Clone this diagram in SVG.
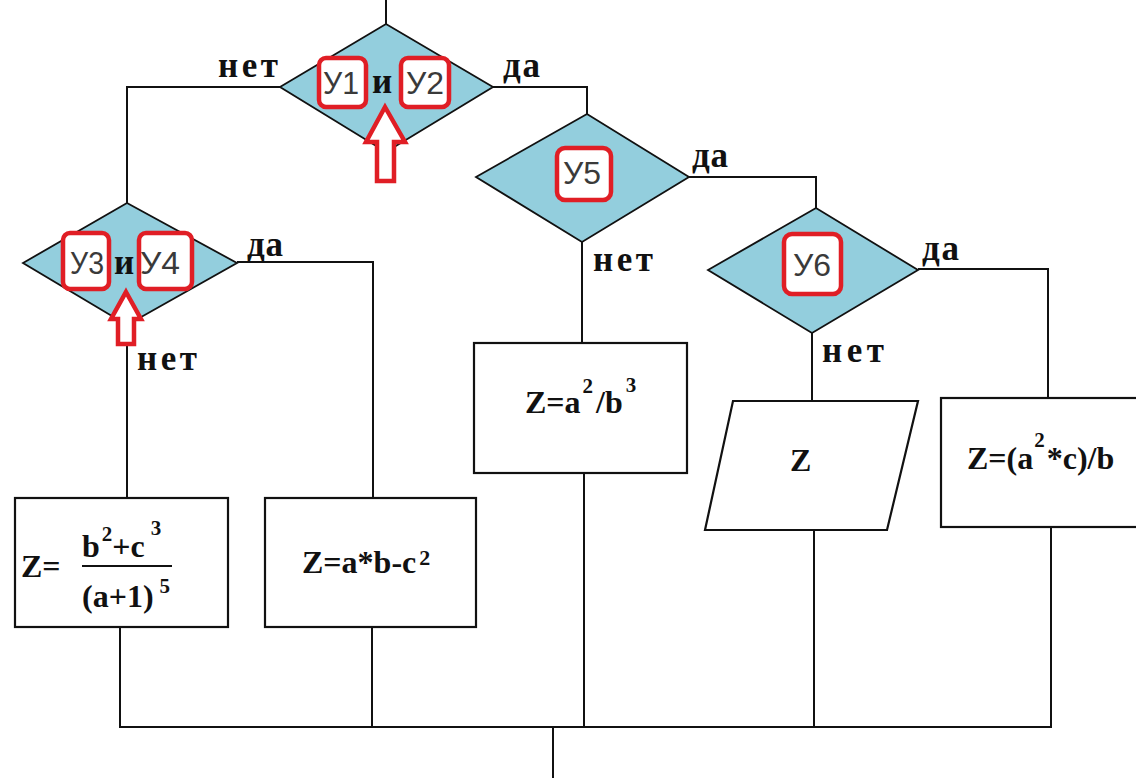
<svg xmlns="http://www.w3.org/2000/svg" width="1136" height="778" viewBox="0 0 1136 778">
<style>
.ln{fill:none;stroke:#111;stroke-width:2}
.dia{fill:#93CEDD;stroke:#111;stroke-width:1.8}
.box{fill:#fff;stroke:#111;stroke-width:2.2}
.rb{fill:#fff;stroke:#E01E25;stroke-width:4.5}
.arr{fill:#fff;stroke:#E01E25;stroke-width:4.5;stroke-linejoin:miter}
.y{font-family:"Liberation Sans",Arial,sans-serif;font-size:32px;fill:#3a3a3a}
.lb{font-family:"Liberation Serif","Times New Roman",serif;font-weight:700;font-size:35px;fill:#111}
.fx{font-family:"Liberation Serif","Times New Roman",serif;font-weight:700;font-size:32px;fill:#111}
</style>
<rect width="1136" height="778" fill="#fff"/>
<g id="connectors">
<path class="ln" d="M386 0V24"/>
<path class="ln" d="M280 87H127V203"/>
<path class="ln" d="M493 87H587V114"/>
<path class="ln" d="M237 262H373V498"/>
<path class="ln" d="M127 325V498"/>
<path class="ln" d="M689 177H816V208"/>
<path class="ln" d="M582 242V343"/>
<path class="ln" d="M918 269H1048V398"/>
<path class="ln" d="M812 333V401"/>
<path class="ln" d="M120 627V727"/>
<path class="ln" d="M372 627V727"/>
<path class="ln" d="M584 473V727"/>
<path class="ln" d="M814 530V727"/>
<path class="ln" d="M1051 527V727"/>
<path class="ln" d="M119 727H1052"/>
<path class="ln" d="M553 727V778"/>
<text class="lb" x="218" y="77" textLength="60" lengthAdjust="spacing">нет</text>
<text class="lb" x="503" y="77" textLength="37" lengthAdjust="spacing">да</text>
<text class="lb" x="247" y="256" textLength="36" lengthAdjust="spacing">да</text>
<text class="lb" x="137" y="370" textLength="60" lengthAdjust="spacing">нет</text>
<text class="lb" x="692" y="167" textLength="36" lengthAdjust="spacing">да</text>
<text class="lb" x="593" y="271" textLength="60" lengthAdjust="spacing">нет</text>
<text class="lb" x="922" y="260" textLength="37" lengthAdjust="spacing">да</text>
<text class="lb" x="822" y="362" textLength="62" lengthAdjust="spacing">нет</text>
</g>
<g id="d1">
<polygon class="dia" points="280,87 386,24 493,87 386,152"/>
<rect class="rb" x="319" y="58" width="47" height="49" rx="7"/>
<rect class="rb" x="401" y="58" width="48" height="49" rx="7"/>
<text class="y" x="323" y="94" textLength="36" lengthAdjust="spacingAndGlyphs">У1</text>
<text class="lb" x="372" y="93">и</text>
<text class="y" x="406" y="94" textLength="38" lengthAdjust="spacingAndGlyphs">У2</text>
<polygon class="arr" points="385,107 405,142 394,142 394,181 377,181 377,142 366,142"/>
</g>
<g id="d2">
<polygon class="dia" points="23,263 127,203 237,263 127,325"/>
<rect class="rb" x="63" y="233" width="46" height="56" rx="7"/>
<rect class="rb" x="139" y="233" width="53" height="56" rx="7"/>
<text class="y" x="70" y="274" textLength="34" lengthAdjust="spacingAndGlyphs">У3</text>
<text class="lb" x="114" y="274">и</text>
<text class="y" x="140" y="274" textLength="40" lengthAdjust="spacingAndGlyphs">У4</text>
<polygon class="arr" points="126,292 141,319 134,319 134,344 118,344 118,319 111,319"/>
</g>
<g id="d3">
<polygon class="dia" points="476,177 587,114 689,177 582,242"/>
<rect class="rb" x="557" y="148" width="54" height="52" rx="8"/>
<text class="y" x="563" y="184" textLength="38" lengthAdjust="spacingAndGlyphs">У5</text>
</g>
<g id="d4">
<polygon class="dia" points="708,270 816,208 918,270 812,333"/>
<rect class="rb" x="784" y="234" width="57" height="60" rx="8"/>
<text class="y" x="793" y="276" textLength="38" lengthAdjust="spacingAndGlyphs">У6</text>
</g>
<g id="b1">
<rect class="box" x="15" y="498" width="213" height="129"/>
<text class="fx" x="21" y="577">Z=</text>
<text class="fx" x="82" y="557">b<tspan font-size="21" dy="-16" dx="2">2</tspan><tspan dy="16">+c</tspan><tspan font-size="21" dy="-22" dx="6">3</tspan></text>
<path class="ln" d="M82 566H172"/>
<text class="fx" x="82" y="607">(a+1)<tspan font-size="21" dy="-14" dx="6">5</tspan></text>
</g>
<g id="b2">
<rect class="box" x="265" y="498" width="211" height="129"/>
<text class="fx" x="302" y="573">Z=a*b-c<tspan font-size="22" dy="-8" dx="3">2</tspan></text>
</g>
<g id="b3">
<rect class="box" x="474" y="343" width="213" height="130"/>
<text class="fx" x="525" y="413">Z=a<tspan font-size="21" dy="-20" dx="2">2</tspan><tspan dy="20" dx="3">/b</tspan><tspan font-size="21" dy="-21" dx="3">3</tspan></text>
</g>
<g id="p1">
<polygon class="box" points="733,401 918,401 887,530 705,530"/>
<text class="fx" x="790" y="471">Z</text>
</g>
<g id="b5">
<rect class="box" x="941" y="398" width="200" height="129"/>
<text class="fx" x="967" y="469">Z=(a<tspan font-size="21" dy="-22" dx="1">2</tspan><tspan dy="22" dx="2">*c)/b</tspan></text>
</g>
</svg>
